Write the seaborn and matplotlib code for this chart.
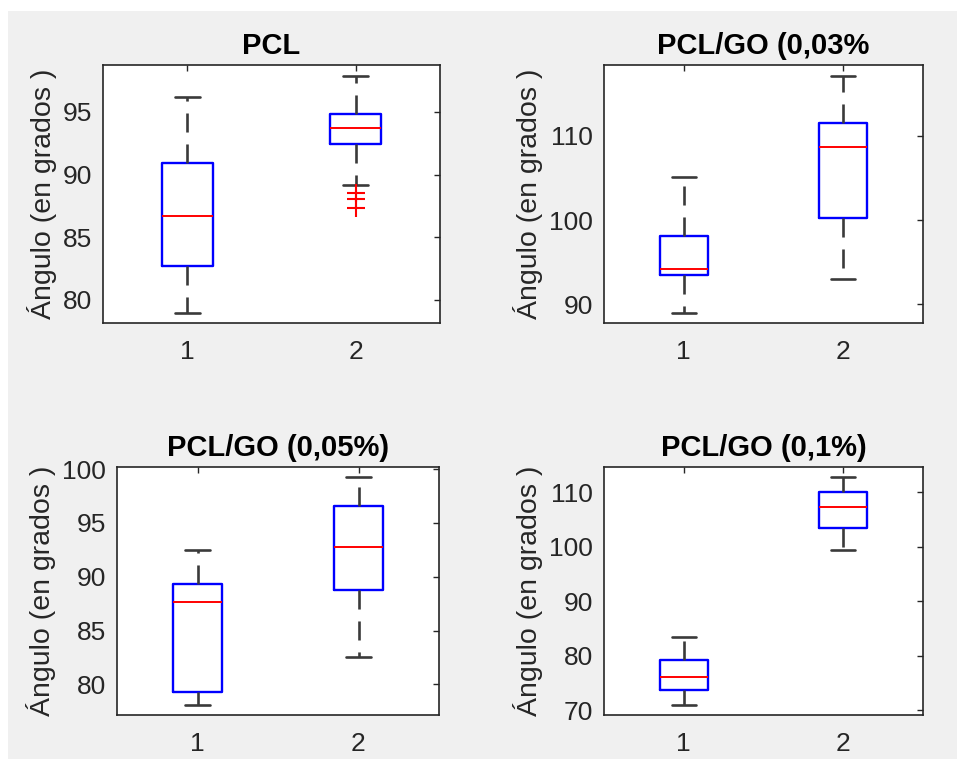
import numpy as np
import pandas as pd
import matplotlib
matplotlib.use("Agg")
import matplotlib.pyplot as plt
from matplotlib.patches import Rectangle
import seaborn as sns

# ---- data -------------------------------------------------------------
titles = ["PCL", "PCL/GO (0,03%", "PCL/GO (0,05%)", "PCL/GO (0,1%)"]
groups = [1, 2]

# five-number summary of each box, per panel: [group 1, group 2]
whisker_low = [[78.94, 89.18], [88.93, 93.04], [78.08, 82.56], [70.92, 99.30]]
q1 = [[82.74, 92.45], [93.44, 100.28], [79.29, 88.76], [73.66, 103.50]]
median = [[86.68, 93.75], [94.23, 108.62], [87.65, 92.78], [76.10, 107.24]]
q3 = [[90.90, 94.84], [98.14, 111.50], [89.29, 96.54], [79.16, 110.00]]
whisker_high = [[96.18, 97.88], [105.14, 117.08], [92.44, 99.22], [83.37, 112.73]]

# outliers (PCL, group 2)
outlier_panel = 0
outlier_group = 2
outlier_values = [88.56, 88.04, 87.37]

y_limits = [(78.16, 98.75), (87.8, 118.4), (77.16, 100.19), (69.1, 114.6)]
y_ticks = [[80, 85, 90, 95], [90, 100, 110], [80, 85, 90, 95, 100],
           [70, 80, 90, 100, 110]]
y_label = "Ángulo (en grados )"

# ---- style ------------------------------------------------------------
sns.set_style("white")
plt.rcParams["font.family"] = ["Liberation Sans", "DejaVu Sans"]
plt.rcParams["lines.scale_dashes"] = False

W, H = 957, 759
fig = plt.figure(figsize=(W / 100, H / 100), dpi=100, facecolor="white")
fig.patches.append(Rectangle((8 / W, 0), 1 - 8 / W, 1 - 11 / H,
                             transform=fig.transFigure, facecolor="#f0f0f0",
                             edgecolor="none", zorder=-10))

# axes boxes in pixels: left, top, right, bottom
boxes_px = [(103, 65, 440, 323), (604, 65, 923, 323),
            (117, 467, 439, 715), (604, 467, 923, 715)]

axis_col = "#262626"
for i, (l, t, r, b) in enumerate(boxes_px):
    ax = fig.add_axes([l / W, 1 - b / H, (r - l) / W, (b - t) / H])
    ax.set_facecolor("white")

    rows = []
    for g_i, g in enumerate(groups):
        for v in (whisker_low[i][g_i], q1[i][g_i], median[i][g_i],
                  q3[i][g_i], whisker_high[i][g_i]):
            rows.append({"grupo": g, "angulo": v})
    df = pd.DataFrame(rows)

    sns.boxplot(data=df, x="grupo", y="angulo", native_scale=True,
                width=0.3, whis=(0, 100), fill=False, showfliers=False,
                ax=ax,
                boxprops=dict(color="#0000ff", linewidth=1.7),
                medianprops=dict(color="#ff0000", linewidth=1.4),
                whiskerprops=dict(color="#3a3a3a", linewidth=1.9,
                                  linestyle=(0, (13.7, 8.6))),
                capprops=dict(color="#3a3a3a", linewidth=1.9))

    if i == outlier_panel:
        sns.scatterplot(x=[outlier_group] * len(outlier_values),
                        y=outlier_values, marker="+", color="#ff0000",
                        s=150, linewidth=1.5, ax=ax, legend=False, zorder=4)

    ax.set_xlim(0.5, 2.5)
    ax.set_xticks(groups)
    ax.set_xticklabels([str(g) for g in groups])
    ax.set_ylim(*y_limits[i])
    ax.set_yticks(y_ticks[i])
    ax.set_xlabel("")
    ax.set_ylabel(y_label, fontsize=20.5, color=axis_col, labelpad=4)
    ax.set_title(titles[i], fontsize=21, fontweight="bold", color="black",
                 pad=8)

    ax.tick_params(axis="both", direction="in", length=4, width=1,
                   color=axis_col, labelcolor=axis_col, labelsize=19,
                   top=True, right=True)
    ax.tick_params(axis="y", pad=8)
    ax.tick_params(axis="x", pad=12)
    for sp in ax.spines.values():
        sp.set_visible(True)
        sp.set_color(axis_col)
        sp.set_linewidth(1.2)

fig.savefig("out.png", dpi=100, facecolor=fig.get_facecolor())
